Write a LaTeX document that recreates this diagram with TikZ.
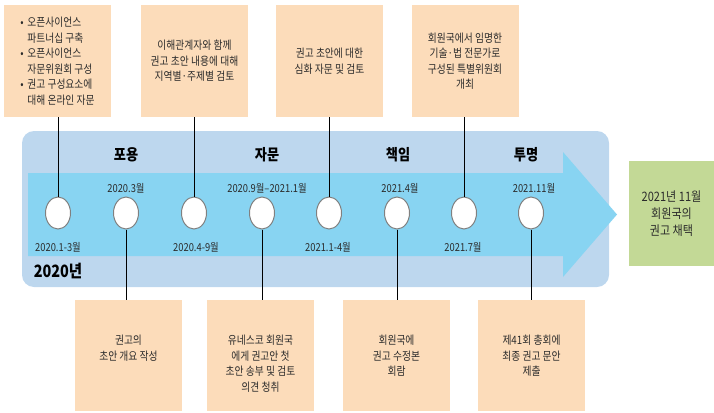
\documentclass[tikz,border=0pt]{standalone}
\usepackage{fontspec}
\setmainfont[FakeStretch=0.85]{Noto Sans CJK KR}
\usetikzlibrary{shapes.geometric}
\definecolor{peach}{HTML}{FCDCBA}
\definecolor{greenbox}{HTML}{C3D996}
\definecolor{bandcol}{HTML}{BDD7EE}
\definecolor{arrowcol}{HTML}{88D4F2}
\definecolor{txtcol}{HTML}{2B2B2B}
\definecolor{ringcol}{HTML}{808080}
\begin{document}
\begin{tikzpicture}[x=1pt,y=-1pt,
  tbox/.style={rectangle, fill=peach, minimum width=107pt, minimum height=112pt, inner sep=0pt,
    align=center, text=txtcol, font=\fontsize{11.5}{15.5}\selectfont},
  bbox/.style={rectangle, fill=peach, minimum width=107pt, minimum height=111pt, inner sep=0pt},
  btxt/.style={align=center, text=txtcol, inner sep=0pt, anchor=north, font=\fontsize{11.5}{15.5}\selectfont},
  ring/.style={ellipse, draw=ringcol, fill=white, line width=1pt, minimum width=25pt, minimum height=32pt, inner sep=0pt},
  stage/.style={font=\fontsize{15.5}{18}\selectfont\bfseries, text=black, inner sep=0pt},
  datel/.style={font=\fontsize{11}{13}\selectfont, text=txtcol, inner sep=0pt},
  conn/.style={draw=black, line width=0.9pt}]
\useasboundingbox (0,0) rectangle (714,412);

% band and arrow
\fill[bandcol, rounded corners=12pt] (22,131) rectangle (609,287);
\fill[arrowcol] (28,173) -- (563,173) -- (563,152) -- (617,214.5) -- (563,277) -- (563,256) -- (28,256) -- cycle;

% top boxes
\node[tbox, align=left] (t1) at (57.5,61) {\makebox[7pt][l]{•}오픈사이언스\\\hspace*{7pt}파트너십 구축\\\makebox[7pt][l]{•}오픈사이언스\\\hspace*{7pt}자문위원회 구성\\\makebox[7pt][l]{•}권고 구성요소에\\\hspace*{7pt}대해 온라인 자문};
\node[tbox] (t2) at (194.5,61) {이해관계자와 함께\\권고 초안 내용에 대해\\지역별·주제별 검토};
\node[tbox] (t3) at (329.5,61) {권고 초안에 대한\\심화 자문 및 검토};
\node[tbox] (t4) at (465,61) {회원국에서 임명한\\기술·법 전문가로\\구성된 특별위원회\\개최};

% bottom boxes
\node[bbox] (b1) at (128.5,355.5) {};
\node[bbox] (b2) at (260.5,355.5) {};
\node[bbox] (b3) at (396.5,355.5) {};
\node[bbox] (b4) at (531.5,355.5) {};
\node[btxt] (bt1) at ([yshift=-35pt]b1.north) {권고의\\초안 개요 작성};
\node[btxt] (bt2) at ([yshift=-35pt]b2.north) {유네스코 회원국\\에게 권고안 첫\\초안 송부 및 검토\\의견 청취};
\node[btxt] (bt3) at ([yshift=-35pt]b3.north) {회원국에\\권고 수정본\\회람};
\node[btxt] (bt4) at ([yshift=-35pt]b4.north) {제41회 총회에\\최종 권고 문안\\제출};

% green box
\node[rectangle, fill=greenbox, minimum width=85pt, minimum height=105pt, inner sep=0pt, align=center,
  text=txtcol, font=\fontsize{13}{17}\selectfont] (g) at (671.5,213.5) {2021년 11월\\회원국의\\권고 채택};

% circles
\node[ring] (c1) at (58,213) {};
\node[ring] (c2) at (126,213) {};
\node[ring] (c3) at (194,213) {};
\node[ring] (c4) at (262,213) {};
\node[ring] (c5) at (329,213) {};
\node[ring] (c6) at (397,213) {};
\node[ring] (c7) at (464,213) {};
\node[ring] (c8) at (531,213) {};

% stage labels
\node[stage] (s1) at (126,155) {포용};
\node[stage] (s2) at (267,155) {자문};
\node[stage] (s3) at (398,155) {책임};
\node[stage] (s4) at (526,155) {투명};

% dates
\node[datel] (d1) at (126,188) {2020.3월};
\node[datel] (d2) at (267,188) {2020.9월–2021.1월};
\node[datel] (d3) at (400,188) {2021.4월};
\node[datel] (d4) at (534,188) {2021.11월};
\node[datel] (d5) at (58,247) {2020.1-3월};
\node[datel] (d6) at (196,247) {2020.4-9월};
\node[datel] (d7) at (328,247) {2021.1-4월};
\node[datel] (d8) at (463,247) {2021.7월};
\node[font=\fontsize{17}{20}\selectfont\bfseries, text=black, inner sep=0pt] (yr) at (58,271) {2020년};

% connectors
\draw[conn] (t1.south -| c1.north) -- (c1.north);
\draw[conn] (t2.south -| c3.north) -- (c3.north);
\draw[conn] (t3.south -| c5.north) -- (c5.north);
\draw[conn] (t4.south -| c7.north) -- (c7.north);
\draw[conn] (c2.south) -- (c2.south |- b1.north);
\draw[conn] (c4.south) -- (c4.south |- b2.north);
\draw[conn] (c6.south) -- (c6.south |- b3.north);
\draw[conn] (c8.south) -- (c8.south |- b4.north);
\end{tikzpicture}
\end{document}
